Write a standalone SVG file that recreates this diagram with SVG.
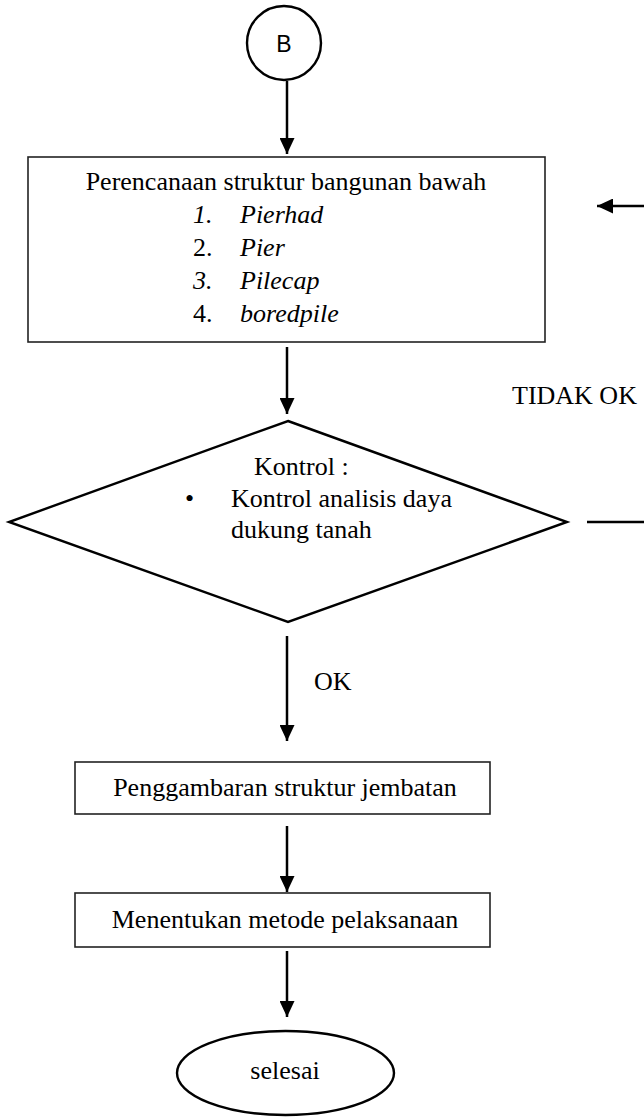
<svg xmlns="http://www.w3.org/2000/svg" width="644" height="1117" viewBox="0 0 644 1117">
<style>
.t{font-family:"Liberation Serif","Times New Roman",serif;font-size:26px;fill:#000}
.i{font-style:italic}
.box{fill:#fff;stroke:#222;stroke-width:1.6}
.shape{fill:#fff;stroke:#000;stroke-width:2.4}
.c{stroke:#000;stroke-width:2.5;fill:none}
</style>
<defs>
<marker id="ah" markerUnits="userSpaceOnUse" markerWidth="16" markerHeight="15" refX="16" refY="7.5" orient="auto">
<path d="M0,0 L16,7.5 L0,15 z" fill="#000"/>
</marker>
</defs>
<rect width="644" height="1117" fill="#fff"/>
<g id="connectors">
<line class="c" x1="287" y1="81" x2="287" y2="154" marker-end="url(#ah)"/>
<line class="c" x1="287" y1="347" x2="287" y2="414" marker-end="url(#ah)"/>
<line class="c" x1="287" y1="636" x2="287" y2="741" marker-end="url(#ah)"/>
<line class="c" x1="287" y1="826" x2="287" y2="892" marker-end="url(#ah)"/>
<line class="c" x1="287" y1="951" x2="287" y2="1017" marker-end="url(#ah)"/>
<line class="c" x1="587" y1="522" x2="644" y2="522"/>
<line class="c" x1="644" y1="206" x2="597" y2="206" marker-end="url(#ah)"/>
<text class="t" x="314" y="690">OK</text>
<text class="t" x="512" y="404">TIDAK OK</text>
</g>
<g id="node-b">
<circle class="shape" cx="284" cy="43" r="37"/>
<text x="284" y="52" text-anchor="middle" style="font-family:'Liberation Sans',Arial,sans-serif;font-size:23px">B</text>
</g>
<g id="node-perencanaan">
<rect class="box" x="28" y="157" width="517" height="185"/>
<text class="t" x="286" y="190" text-anchor="middle">Perencanaan struktur bangunan bawah</text>
<text class="t i" x="193" y="223">1.</text><text class="t i" x="240" y="223">Pierhad</text>
<text class="t" x="193" y="256">2.</text><text class="t i" x="240" y="256">Pier</text>
<text class="t i" x="193" y="289">3.</text><text class="t i" x="240" y="289">Pilecap</text>
<text class="t" x="193" y="322">4.</text><text class="t i" x="240" y="322">boredpile</text>
</g>
<g id="node-kontrol">
<polygon class="shape" points="288,421 567,522 288,622 9,522"/>
<text class="t" x="254" y="475">Kontrol :</text>
<text class="t" x="185" y="507">•</text>
<text class="t" x="231" y="507">Kontrol analisis daya</text>
<text class="t" x="231" y="538">dukung tanah</text>
</g>
<g id="node-penggambaran">
<rect class="box" x="75" y="762" width="415" height="52"/>
<text class="t" x="285" y="796" text-anchor="middle">Penggambaran struktur jembatan</text>
</g>
<g id="node-metode">
<rect class="box" x="75" y="893" width="415" height="54"/>
<text class="t" x="285" y="928" text-anchor="middle">Menentukan metode pelaksanaan</text>
</g>
<g id="node-selesai">
<ellipse class="shape" cx="285.5" cy="1073" rx="108.5" ry="42"/>
<text class="t" x="285" y="1079" text-anchor="middle">selesai</text>
</g>
</svg>
